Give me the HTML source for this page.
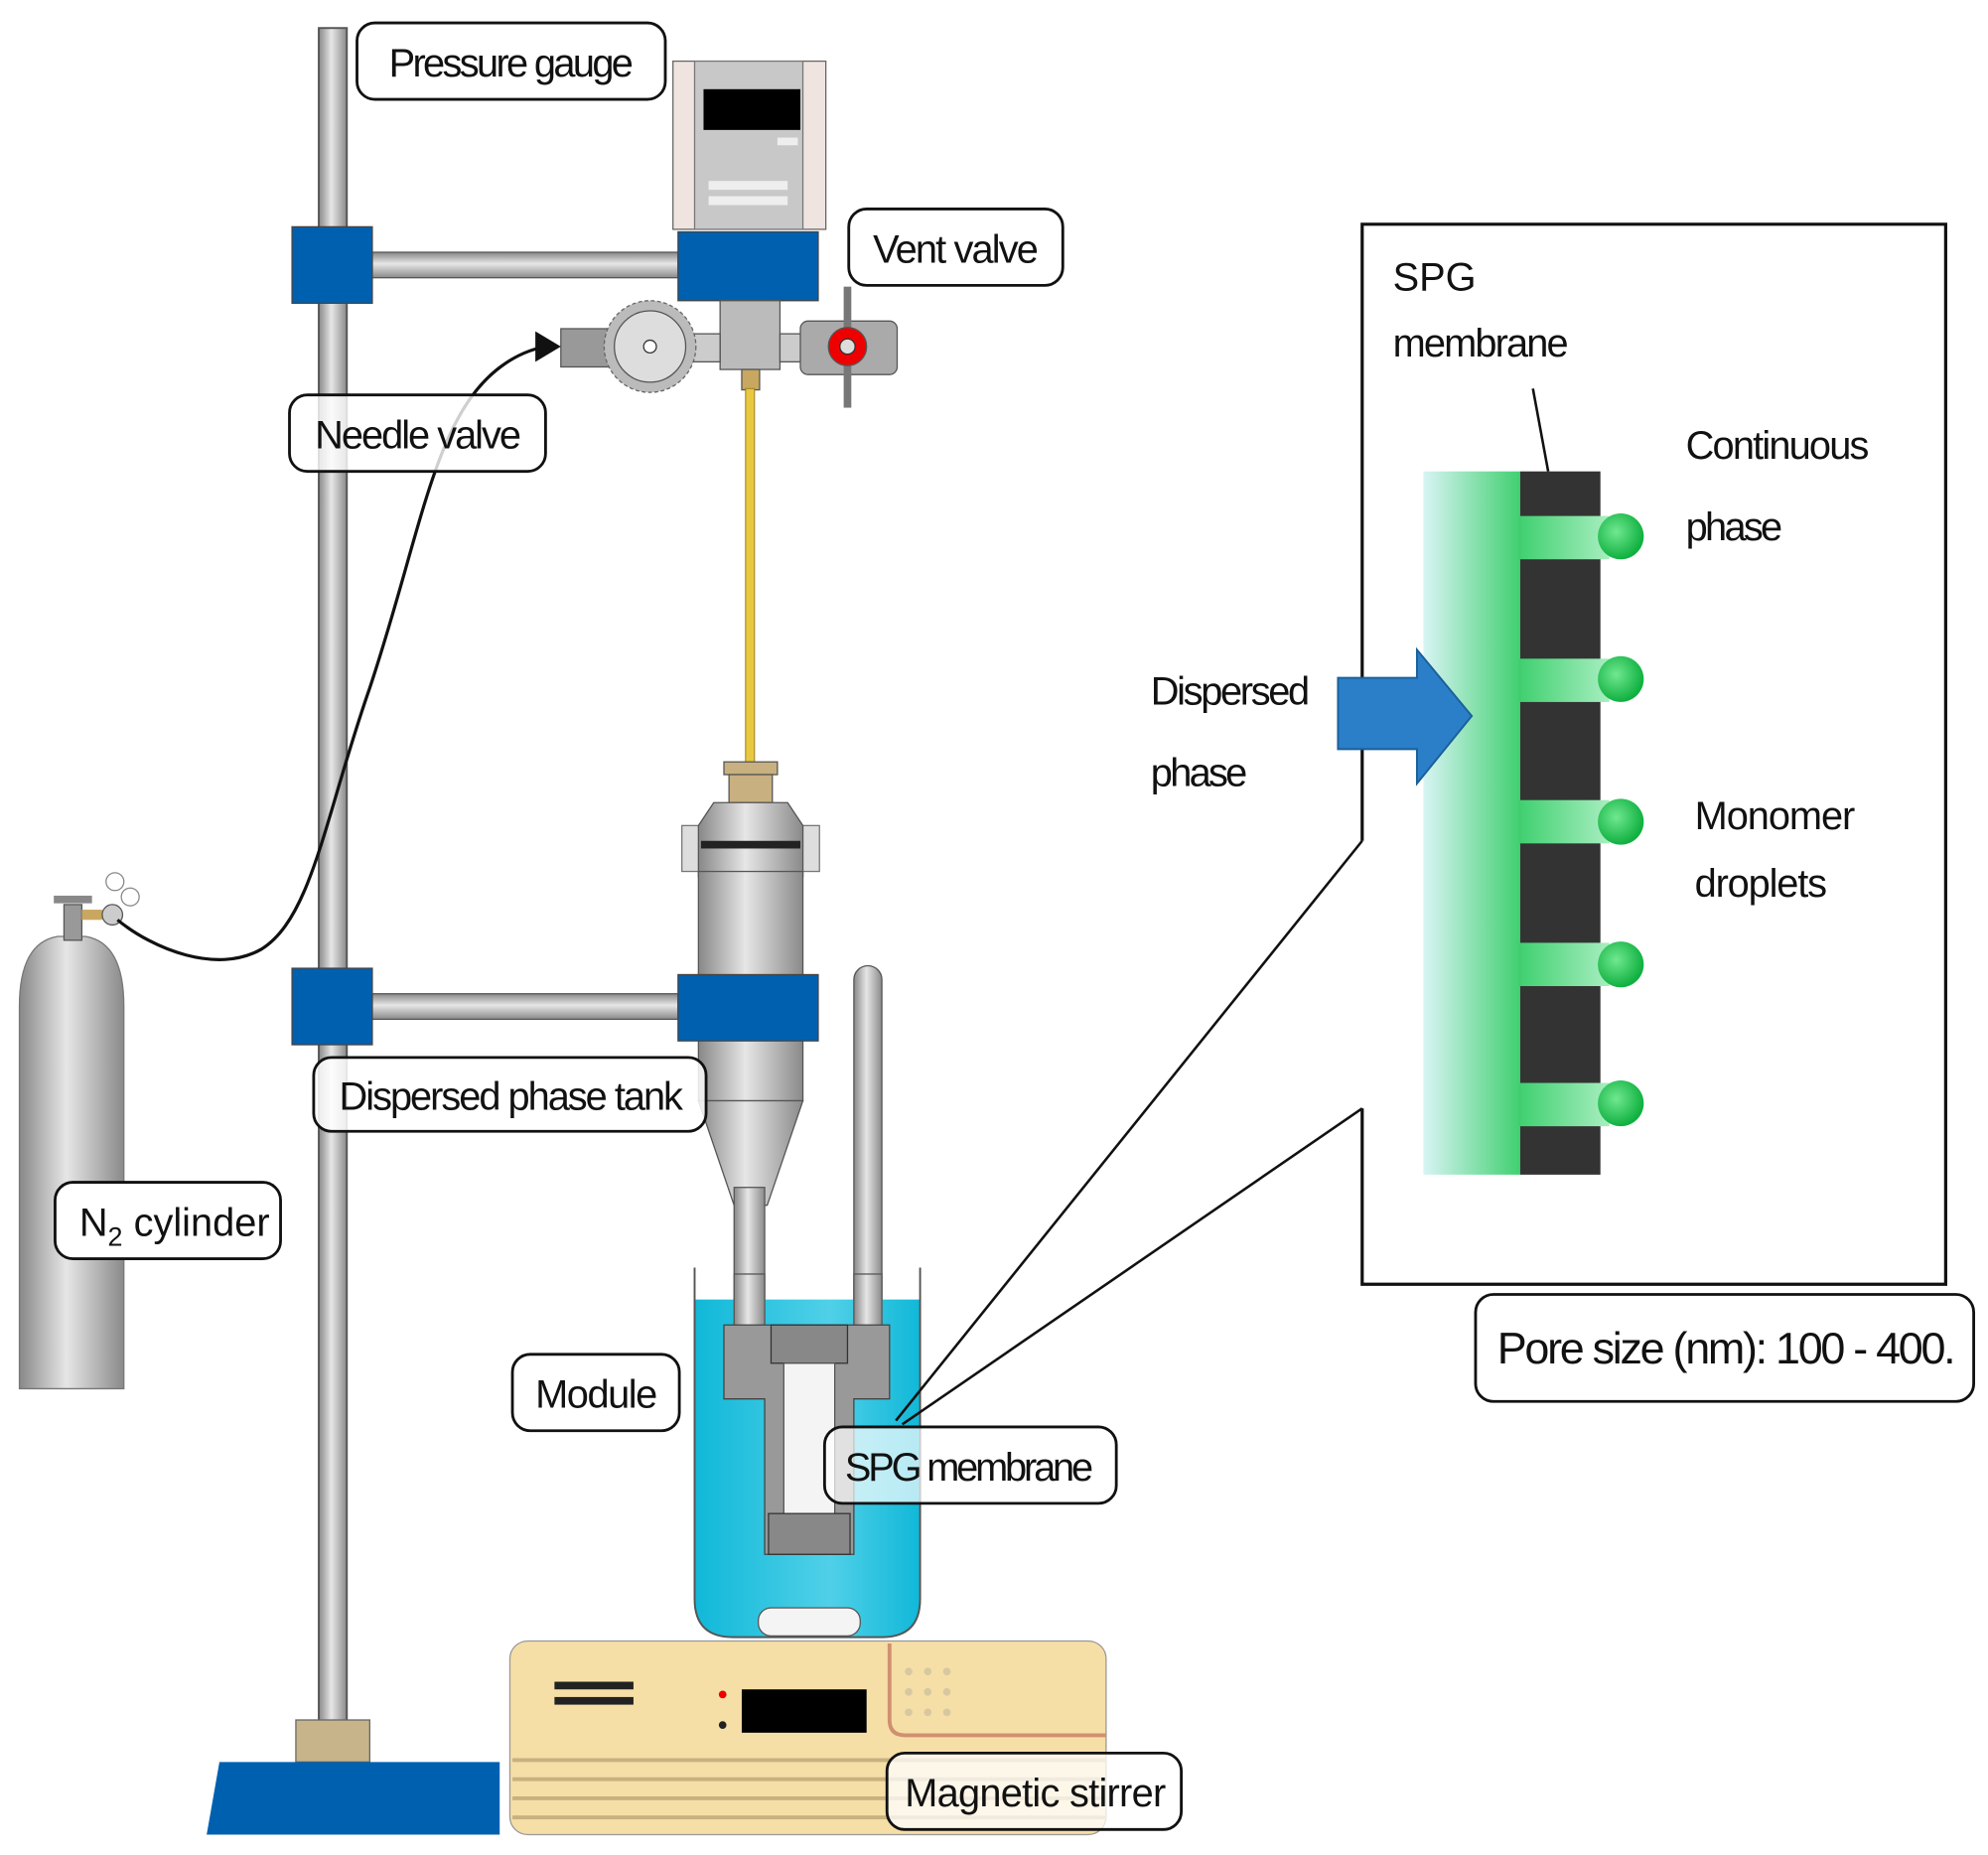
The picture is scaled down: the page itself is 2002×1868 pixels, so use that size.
<!DOCTYPE html>
<html><head><meta charset="utf-8"><style>html,body{margin:0;padding:0;background:#fff}svg{display:block}text{font-family:"Liberation Sans",sans-serif;fill:#111}</style></head><body>
<svg width="2002" height="1868" viewBox="0 0 1560 1456" xmlns="http://www.w3.org/2000/svg">
<defs>
<linearGradient id="metal" x1="0" x2="1"><stop offset="0" stop-color="#888"/><stop offset=".45" stop-color="#e6e6e6"/><stop offset="1" stop-color="#8a8a8a"/></linearGradient>
<linearGradient id="metalv" x1="0" y1="0" x2="0" y2="1"><stop offset="0" stop-color="#888"/><stop offset=".45" stop-color="#e6e6e6"/><stop offset="1" stop-color="#8a8a8a"/></linearGradient>
<linearGradient id="disp" x1="0" x2="1"><stop offset="0" stop-color="#d8f4f4"/><stop offset="1" stop-color="#40d070"/></linearGradient>
<linearGradient id="pore" x1="0" x2="1"><stop offset="0" stop-color="#40d070"/><stop offset="1" stop-color="#a8eec0"/></linearGradient>
<radialGradient id="drop" cx=".4" cy=".4" r=".6"><stop offset="0" stop-color="#70e890"/><stop offset="1" stop-color="#10b040"/></radialGradient>
<linearGradient id="water" x1="0" x2="1"><stop offset="0" stop-color="#10b8d8"/><stop offset=".6" stop-color="#50d0e8"/><stop offset="1" stop-color="#10b8d8"/></linearGradient>
</defs>
<rect x="250" y="22" width="22" height="1335" fill="url(#metal)" stroke="#555" stroke-width="1.5"/>
<rect x="232" y="1350" width="58" height="33" fill="#c8b48a" stroke="#666"/>
<polygon points="172,1383 392,1383 392,1440 162,1440" fill="#0060b0"/>
<rect x="292" y="198" width="240" height="20" fill="url(#metalv)" stroke="#555"/>
<rect x="229" y="178" width="63" height="60" fill="#0060b0" stroke="#444"/>
<rect x="528" y="48" width="120" height="132" fill="#f0e4e0" stroke="#666"/>
<rect x="545" y="48" width="85" height="132" fill="#c8c8c8" stroke="#777"/>
<rect x="552" y="70" width="76" height="32" fill="#000"/>
<rect x="610" y="108" width="16" height="6" fill="#eee"/>
<rect x="556" y="142" width="62" height="7" fill="#eee"/><rect x="556" y="154" width="62" height="7" fill="#eee"/>
<rect x="532" y="182" width="110" height="54" fill="#0060b0" stroke="#444"/>
<rect x="565" y="236" width="47" height="54" fill="#bbb" stroke="#555"/>
<rect x="440" y="258" width="40" height="30" fill="#999" stroke="#555"/>
<rect x="530" y="262" width="35" height="22" fill="#ccc" stroke="#555"/>
<circle cx="510" cy="272" r="36" fill="#bbb" stroke="#666" stroke-dasharray="3 2"/>
<circle cx="510" cy="272" r="28" fill="#ddd" stroke="#555"/>
<circle cx="510" cy="272" r="5" fill="#fff" stroke="#333"/>
<rect x="612" y="262" width="20" height="22" fill="#ccc" stroke="#555"/>
<rect x="628" y="252" width="76" height="42" rx="6" fill="#aaa" stroke="#555"/>
<rect x="662" y="225" width="6" height="95" fill="#777"/>
<circle cx="665" cy="272" r="15" fill="#e00" stroke="#555"/>
<circle cx="665" cy="272" r="6" fill="#ddd" stroke="#333"/>
<rect x="582" y="290" width="14" height="16" fill="#c8a860" stroke="#555"/>
<rect x="585" y="305" width="7" height="295" fill="#e8c840" stroke="#a08020" stroke-width=".8"/>
<rect x="568" y="598" width="42" height="10" fill="#c8b080" stroke="#555"/>
<rect x="572" y="608" width="34" height="22" fill="#c8b080" stroke="#555"/>
<rect x="535" y="648" width="108" height="36" fill="#ddd" stroke="#777"/>
<path d="M560 630 h58 l12 18 v40 h-82 v-40z" fill="url(#metal)" stroke="#555"/>
<rect x="550" y="660" width="78" height="6" fill="#222"/>
<rect x="548" y="684" width="82" height="180" fill="url(#metal)" stroke="#555"/>
<path d="M548 864 h82 l-28 82 h-26z" fill="url(#metal)" stroke="#555"/>
<rect x="292" y="780" width="240" height="20" fill="url(#metalv)" stroke="#555"/>
<rect x="229" y="760" width="63" height="60" fill="#0060b0" stroke="#444"/>
<rect x="532" y="765" width="110" height="52" fill="#0060b0" stroke="#444"/>
<rect x="576" y="932" width="24" height="110" fill="url(#metal)" stroke="#555"/>
<rect x="670" y="758" width="22" height="285" rx="11" fill="url(#metal)" stroke="#555"/>
<path d="M545 1020 h177 v235 q0 30 -30 30 h-117 q-30 0 -30 -30z" fill="url(#water)"/>
<path d="M545 995 v260 q0 30 30 30 h117 q30 0 30 -30 v-260" fill="none" stroke="#555" stroke-width="1.5"/>
<rect x="576" y="1000" width="24" height="42" fill="url(#metal)" stroke="#555"/>
<rect x="670" y="1000" width="22" height="42" fill="url(#metal)" stroke="#555"/>
<path d="M568 1040 h130 v58 h-28 v122 h-70 v-122 h-32z" fill="#999" stroke="#444"/>
<rect x="605" y="1040" width="60" height="30" fill="#888" stroke="#333"/>
<rect x="615" y="1070" width="40" height="120" fill="#f4f4f4" stroke="#555"/>
<rect x="603" y="1188" width="64" height="32" fill="#888" stroke="#333"/>
<rect x="595" y="1262" width="80" height="22" rx="10" fill="#f4f4f4" stroke="#555"/>
<rect x="400" y="1288" width="468" height="152" rx="14" fill="#f5dfa6" stroke="#999"/>
<path d="M698 1290 v60 q0 12 12 12 h158" fill="none" stroke="#d09070" stroke-width="3"/>
<g fill="#c8b080"><rect x="402" y="1380" width="466" height="3"/><rect x="402" y="1395" width="466" height="3"/><rect x="402" y="1410" width="466" height="3"/><rect x="402" y="1425" width="466" height="3"/></g>
<rect x="435" y="1320" width="62" height="6" fill="#222"/><rect x="435" y="1332" width="62" height="6" fill="#222"/>
<rect x="582" y="1326" width="98" height="34" fill="#000"/>
<circle cx="567" cy="1330" r="3" fill="#e00"/><circle cx="567" cy="1354" r="3" fill="#222"/>
<g fill="#d8c8a0"><circle cx="713" cy="1312" r="3"/><circle cx="728" cy="1312" r="3"/><circle cx="743" cy="1312" r="3"/><circle cx="713" cy="1328" r="3"/><circle cx="728" cy="1328" r="3"/><circle cx="743" cy="1328" r="3"/><circle cx="713" cy="1344" r="3"/><circle cx="728" cy="1344" r="3"/><circle cx="743" cy="1344" r="3"/></g>
<path d="M15 1090 v-300 q0 -50 30 -55 h22 q30 5 30 55 v300z" fill="url(#metal)" stroke="#777"/>
<rect x="50" y="710" width="14" height="28" fill="#999" stroke="#555"/>
<rect x="42" y="703" width="30" height="6" fill="#888"/>
<rect x="64" y="714" width="16" height="8" fill="#c8a860"/>
<circle cx="88" cy="718" r="8" fill="#ccc" stroke="#555"/>
<circle cx="90" cy="692" r="7" fill="#fff" stroke="#888"/><circle cx="102" cy="704" r="7" fill="#fff" stroke="#888"/>
<path d="M92 722 C120 745 170 765 205 745 C245 720 255 640 290 540 C330 420 340 330 390 290 C405 278 418 274 428 272" fill="none" stroke="#111" stroke-width="2.5"/>
<polygon points="440,272 420,260 420,284" fill="#111"/>
<polyline points="1069,660 1069,176 1527,176 1527,1008 1069,1008 1069,870" fill="none" stroke="#111" stroke-width="2.5"/>
<line x1="1069" y1="660" x2="703" y2="1115" stroke="#111" stroke-width="2"/>
<line x1="1069" y1="870" x2="708" y2="1118" stroke="#111" stroke-width="2"/>
<rect x="1117" y="370" width="76" height="552" fill="url(#disp)"/>
<rect x="1193" y="370" width="63" height="552" fill="#333"/>
<g fill="url(#pore)">
<rect x="1193" y="405" width="70" height="34"/><rect x="1193" y="517" width="70" height="34"/><rect x="1193" y="628" width="70" height="34"/><rect x="1193" y="740" width="70" height="34"/><rect x="1193" y="850" width="70" height="34"/></g>
<g fill="url(#drop)"><circle cx="1272" cy="421" r="18"/><circle cx="1272" cy="533" r="18"/><circle cx="1272" cy="645" r="18"/><circle cx="1272" cy="757" r="18"/><circle cx="1272" cy="866" r="18"/></g>
<polygon points="1050,532 1112,532 1112,510 1155,562 1112,615 1112,588 1050,588" fill="#2a7fc8" stroke="#1a5f98" stroke-width="1.5"/>
<line x1="1203" y1="305" x2="1215" y2="370" stroke="#111" stroke-width="2"/>
<g font-size="31">
<text x="1093" y="228">SPG</text>
<text x="1093" y="280" textLength="138">membrane</text>
<text x="1323" y="360" textLength="144">Continuous</text>
<text x="1323" y="424" textLength="76">phase</text>
<text x="903" y="553" textLength="125">Dispersed</text>
<text x="903" y="617" textLength="76">phase</text>
<text x="1330" y="651" textLength="126">Monomer</text>
<text x="1330" y="704" textLength="104">droplets</text>
</g>
<g fill="#fff" stroke="#111" stroke-width="2.2">
<rect x="280" y="18" width="242" height="60" rx="14"/>
<rect x="666" y="164" width="168" height="60" rx="14"/>
<rect x="227" y="310" width="201" height="60" rx="14" fill-opacity=".8"/>
<rect x="246" y="830" width="308" height="58" rx="14" fill-opacity=".85"/>
<rect x="43" y="928" width="177" height="60" rx="14"/>
<rect x="402" y="1063" width="131" height="60" rx="14"/>
<rect x="647" y="1120" width="229" height="60" rx="14" fill-opacity=".7"/>
<rect x="696" y="1376" width="231" height="60" rx="14" fill-opacity=".75"/>
<rect x="1158" y="1016" width="391" height="84" rx="14"/>
</g>
<g font-size="31">
<text x="305" y="60" textLength="192">Pressure gauge</text>
<text x="685" y="206" textLength="130">Vent valve</text>
<text x="247" y="352" textLength="162">Needle valve</text>
<text x="266" y="871" textLength="270">Dispersed phase tank</text>
<text x="62" y="970">N<tspan font-size="21" dy="8">2</tspan><tspan dy="-8"> cylinder</tspan></text>
<text x="420" y="1105" textLength="96">Module</text>
<text x="663" y="1162" textLength="195">SPG membrane</text>
<text x="710" y="1418" textLength="205">Magnetic stirrer</text>
<text x="1175" y="1070" font-size="35" textLength="360">Pore size (nm): 100 - 400.</text>
</g>
</svg>
</body></html>
